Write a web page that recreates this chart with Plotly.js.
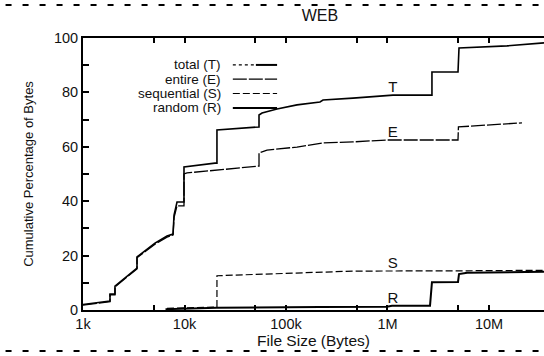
<!DOCTYPE html>
<html><head><meta charset="utf-8">
<script src="https://cdn.plot.ly/plotly-3.0.1.min.js"></script>
<style>html,body{margin:0;padding:0;background:#fff;overflow:hidden}#chart{width:544px;height:356px}</style>
</head><body><div id="chart"></div>
<script>
// ---- data ----
const totalX = [1000,1845,1845,2066,2066,3404,3404,3811,5117,6724,7709,7888,8440,9886,9886,19950,20880,20880,47340,54220,54220,58080,81530,128300,216200,231500,457100,1059000,1133000,2742000,2742000,4951000,5065000,15040000,34850000];
const totalY = [2.0,3.3,5.9,5.9,8.8,15.4,19.5,21.0,24.6,27.2,27.9,34.9,39.7,39.7,52.6,54.0,54.0,66.2,67.3,67.3,71.7,72.4,73.9,75.4,76.5,77.2,77.9,78.7,79.0,79.0,87.5,87.5,96.3,97.1,98.2];

const entireX = [1000,1845,1845,2066,2066,3404,3404,3811,5117,6724,7709,7888,8440,9886,9886,10590,47340,54220,54220,65010,128300,216200,231500,457100,988000,4951000,5000000,9550000,21130000];
const entireY = [1.8,3.1,5.6,5.6,8.5,15.1,19.2,20.6,24.2,26.8,27.6,34.0,38.3,38.3,50.0,50.4,52.9,52.9,57.7,58.8,59.9,61.0,61.4,61.8,62.5,62.5,67.3,68.0,68.8];

const seqX = [6724,20880,20880,47340,216200,457100,5065000,34850000];
const seqY = [0.6,1.1,12.6,13.1,13.9,14.3,14.4,14.6];

const randX = [6500,20880,216200,988000,1107000,2624000,2742000,4951000,5065000,6100000,34850000];
const randY = [0.3,0.8,1.1,1.2,1.6,1.6,10.2,10.3,13.2,13.7,14.1];

const seriesNames = ['total (T)','entire (E)','sequential (S)','random (R)'];
const curveLetters = ['T','E','S','R'];
const letterX = [1130000,1130000,1130000,1130000];
const letterY = [81.6,65.0,17.0,4.0];

const xTickVals = [1000,5000,10000,50000,100000,500000,1000000,5000000,10000000];
const xTickText = ['1k','','10k','','100k','','1M','','10M'];
const yTickVals = [0,10,20,30,40,50,60,70,80,90,100];
const yTickText = ['0','','20','','40','','60','','80','','100'];

// ---- chart ----
const FONT = 'Liberation Sans, Arial, sans-serif';
const ink = '#111';
const traces = [
  {x: totalX, y: totalY, mode:'lines', name: seriesNames[0], line:{color:'#000', width:1.6}},
  {x: entireX, y: entireY, mode:'lines', name: seriesNames[1], line:{color:'#000', width:1.3, dash:'14px,2px'}},
  {x: seqX, y: seqY, mode:'lines', name: seriesNames[2], line:{color:'#000', width:1.2, dash:'7px,3px'}},
  {x: randX, y: randY, mode:'lines', name: seriesNames[3], line:{color:'#000', width:2}},
  {x: letterX, y: letterY, mode:'text', text: curveLetters, textfont:{family:FONT, size:15, color:ink}, hoverinfo:'skip'}
];

// manual legend (text right-aligned, sample line to the right), paper coords
const legRowsY = [0.901, 0.849, 0.796, 0.743];
const annotations = seriesNames.map((n,i)=>({
  xref:'paper', yref:'paper', x:0.304, y:legRowsY[i], xanchor:'right', yanchor:'middle',
  text:n, showarrow:false, font:{family:FONT, size:13.5, color:ink}
}));
const sampleDash = ['dot','14px,2px','7px,3px','solid'];
const shapes = [];
seriesNames.forEach((n,i)=>{
  if (i===0) {
    shapes.push({type:'line', xref:'paper', yref:'paper', x0:0.325, x1:0.375, y0:legRowsY[i], y1:legRowsY[i], line:{color:'#000', width:1.3, dash:'dot'}});
    shapes.push({type:'line', xref:'paper', yref:'paper', x0:0.375, x1:0.421, y0:legRowsY[i], y1:legRowsY[i], line:{color:'#000', width:2}});
  } else {
    shapes.push({type:'line', xref:'paper', yref:'paper', x0:0.325, x1:0.421, y0:legRowsY[i], y1:legRowsY[i], line:{color:'#000', width: i===3?2:1.2, dash:sampleDash[i]}});
  }
});
// dashed separator lines above and below the figure
shapes.push({type:'line', xref:'paper', yref:'paper', x0:-0.168, x1:1.0, y0:1.121, y1:1.121, line:{color:'#000', width:2, dash:'6px,11px'}});
shapes.push({type:'line', xref:'paper', yref:'paper', x0:-0.168, x1:1.0, y0:-0.151, y1:-0.151, line:{color:'#000', width:2, dash:'6px,11px'}});

const layout = {
  width:544, height:356,
  margin:{l:83, r:0, t:38, b:46, pad:0},
  paper_bgcolor:'#fff', plot_bgcolor:'#fff',
  showlegend:false,
  font:{family:FONT, size:13, color:ink},
  title:{text:'WEB', x:0.514, xref:'paper', y:0.957, yref:'container', xanchor:'center', yanchor:'middle', font:{family:FONT, size:16, color:ink}},
  xaxis:{
    type:'log', range:[3, 7.542], showgrid:false, zeroline:false,
    showline:true, linewidth:2, linecolor:'#000', mirror:'ticks',
    ticks:'inside', ticklen:5, tickwidth:2, tickcolor:'#000',
    tickmode:'array', tickvals:xTickVals, ticktext:xTickText,
    tickfont:{family:FONT, size:14.5, color:ink},
    title:{text:'File Size (Bytes)', font:{family:FONT, size:15.5, color:ink}, standoff:3}
  },
  yaxis:{
    range:[0,100], showgrid:false, zeroline:false,
    showline:true, linewidth:2, linecolor:'#000',
    ticks:'inside', ticklen:6, tickwidth:2, tickcolor:'#000',
    tickmode:'array', tickvals:yTickVals, ticktext:yTickText,
    tickfont:{family:FONT, size:14.5, color:ink},
    title:{text:'Cumulative Percentage of Bytes', font:{family:FONT, size:13, color:ink}, standoff:17}
  },
  annotations: annotations,
  shapes: shapes
};
Plotly.newPlot('chart', traces, layout, {staticPlot:true, displayModeBar:false});
</script></body></html>
